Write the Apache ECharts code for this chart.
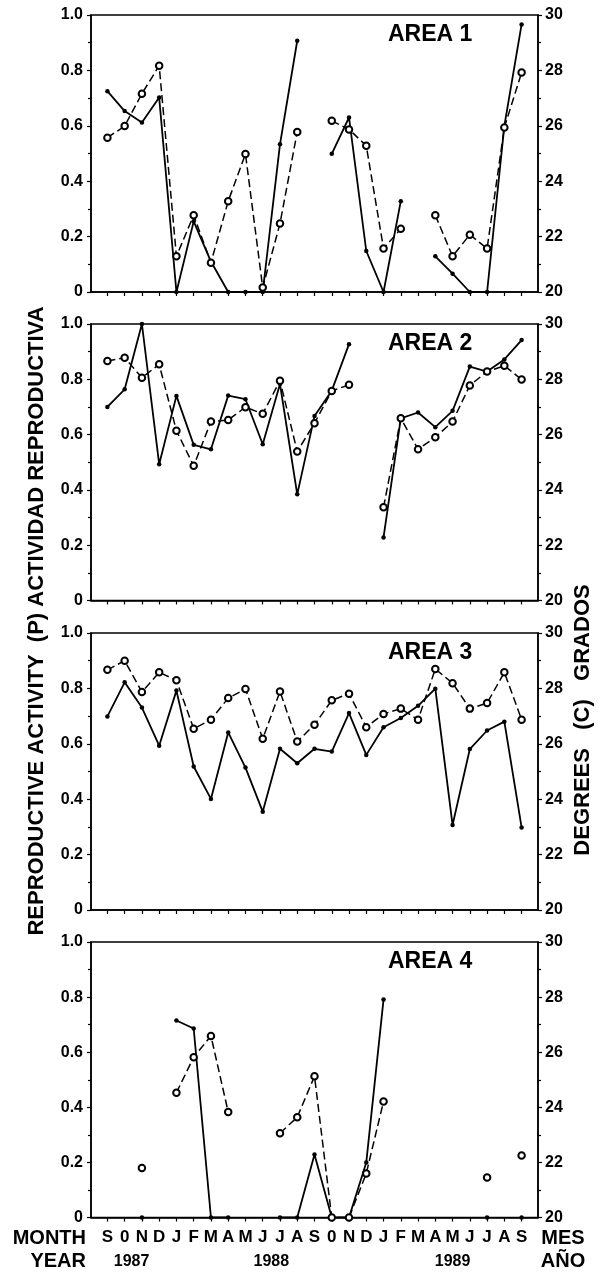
<!DOCTYPE html>
<html>
<head>
<meta charset="utf-8">
<script src="https://cdn.jsdelivr.net/npm/echarts@6/dist/echarts.min.js"></script>
<style>
html,body{margin:0;padding:0;background:#fff;}
#chart{width:598px;height:1274px;}
</style>
</head>
<body>
<div id="chart"></div>
<script>
// ---- Data ----
const months = ['S','0','N','D','J','F','M','A','M','J','J','A','S','0','N','D','J','F','M','A','M','J','J','A','S'];
const years = ['1987','1988','1989'];
const yearPositions = [1.4, 9.5, 20];
const areaNames = ['AREA 1','AREA 2','AREA 3','AREA 4'];
const leftTicks = [0, 0.2, 0.4, 0.6, 0.8, 1.0];
const rightTicks = [20, 22, 24, 26, 28, 30];

// reproductive activity (P), left axis
const area1Activity = [0.725,0.653,0.612,0.702,0,0.255,0.11,0,0,0,0.533,0.907,null,0.499,0.63,0.148,0,0.328,null,0.129,0.066,0,0,0.6,0.966];
const area2Activity = [0.70,0.764,1.0,0.493,0.74,0.563,0.547,0.741,0.728,0.565,0.783,0.384,0.667,0.759,0.927,null,0.228,0.659,0.68,0.627,0.686,0.846,0.828,0.872,0.942];
const area3Activity = [0.699,0.822,0.731,0.593,0.792,0.518,0.401,0.641,0.514,0.355,0.582,0.53,0.582,0.572,0.711,0.56,0.66,0.693,0.737,0.799,0.307,0.581,0.648,0.68,0.298];
const area4Activity = [null,null,0,null,0.715,0.686,0,0,null,null,0,0,0.229,0,0,0.2,0.791,null,null,null,null,null,0,null,0];

// temperature (degrees C), right axis
const area1Temp = [25.57,25.99,27.16,28.17,21.29,22.77,21.06,23.28,24.98,20.16,22.47,25.78,null,26.18,25.87,25.28,21.57,22.28,null,22.77,21.29,22.07,21.57,25.94,27.92];
const area2Temp = [28.66,28.78,28.06,28.54,26.14,24.87,26.47,26.53,26.99,26.75,27.95,25.39,26.41,27.58,27.8,null,23.37,26.59,25.47,25.9,26.47,27.78,28.28,28.49,27.99];
const area3Temp = [28.67,29.0,27.87,28.58,28.29,26.54,26.87,27.65,27.98,26.18,27.89,26.08,26.69,27.57,27.81,26.6,27.08,27.27,26.87,28.7,28.19,27.27,27.47,28.58,26.87];
const area4Temp = [null,null,21.8,null,24.53,25.82,26.59,23.83,null,null,23.06,23.64,25.13,20,20,21.6,24.21,null,null,null,null,null,21.45,null,22.25];

const activity = [area1Activity, area2Activity, area3Activity, area4Activity];
const temps = [area1Temp, area2Temp, area3Temp, area4Temp];

// ---- Layout ----
const FONT = '"Liberation Sans", Arial, Helvetica, sans-serif';
const tops = [15, 324, 633, 942];
const heights = [277, 276.5, 277, 275.5];
const gridLeft = 91, gridWidth = 447;
const monthIdx = months.map((m, i) => i);

const chart = echarts.init(document.getElementById('chart'), null, {renderer: 'canvas'});

const grid = [], xAxis = [], yAxis = [], series = [], graphic = [];
for (let p = 0; p < 4; p++) {
  grid.push({left: gridLeft, top: tops[p], width: gridWidth, height: heights[p],
    show: true, borderColor: '#000', borderWidth: 1.5, backgroundColor: 'transparent'});
  xAxis.push({
    type: 'value', gridIndex: p, min: -0.95, max: 24.95, position: 'bottom',
    axisLine: {show: true, onZero: false, lineStyle: {color: '#000', width: 1.5}},
    axisTick: {show: true, customValues: monthIdx, inside: false, length: 4, lineStyle: {color: '#000', width: 1.2}},
    axisLabel: p === 3 ? {
      show: true, customValues: monthIdx, margin: 11,
      formatter: v => months[Math.round(v)],
      color: '#000', fontFamily: FONT, fontWeight: 'bold', fontSize: 17
    } : {show: false},
    splitLine: {show: false}
  });
  yAxis.push({
    type: 'value', gridIndex: p, min: 0, max: 1, interval: 0.2, position: 'left',
    axisLine: {show: true, onZero: false, lineStyle: {color: '#000', width: 1.5}},
    axisTick: {show: true, length: 4, lineStyle: {color: '#000', width: 1.2}},
    minorTick: {show: true, splitNumber: 2, length: 3, lineStyle: {color: '#000', width: 1.2}},
    axisLabel: {color: '#000', fontFamily: FONT, fontWeight: 'bold', fontSize: 16, margin: 8,
      customValues: leftTicks,
      formatter: v => (Math.abs(v) < 1e-9 ? '0' : v.toFixed(1))},
    splitLine: {show: false}
  });
  yAxis.push({
    type: 'value', gridIndex: p, min: 20, max: 30, interval: 2, position: 'right',
    axisLine: {show: true, onZero: false, lineStyle: {color: '#000', width: 1.5}},
    axisTick: {show: true, length: 4, lineStyle: {color: '#000', width: 1.2}},
    minorTick: {show: true, splitNumber: 2, length: 3, lineStyle: {color: '#000', width: 1.2}},
    axisLabel: {color: '#000', fontFamily: FONT, fontWeight: 'bold', fontSize: 16, margin: 7,
      customValues: rightTicks},
    splitLine: {show: false}
  });
  series.push({
    type: 'line', xAxisIndex: p, yAxisIndex: p * 2,
    data: activity[p].map((v, i) => [i, v]),
    connectNulls: false, symbol: 'circle', symbolSize: 4.5, showSymbol: true,
    lineStyle: {color: '#000', width: 1.8, type: 'solid'},
    itemStyle: {color: '#000'}, silent: true, animation: false, z: 2
  });
  series.push({
    type: 'line', xAxisIndex: p, yAxisIndex: p * 2 + 1,
    data: temps[p].map((v, i) => [i, v]),
    connectNulls: false, symbol: 'emptyCircle', symbolSize: 6.5, showSymbol: true,
    lineStyle: {color: '#000', width: 1.5, type: [8, 4]},
    itemStyle: {color: '#000', borderColor: '#000', borderWidth: 1.2}, silent: true, animation: false, z: 3
  });
  graphic.push({type: 'text', x: 388, y: tops[p] + 8, z: 10,
    style: {text: areaNames[p], font: 'bold 23px ' + FONT, fill: '#000', textVerticalAlign: 'top'}});
}
// year axis under the month labels of the bottom panel
xAxis.push({
  type: 'value', gridIndex: 3, min: -0.95, max: 24.95, position: 'bottom', offset: 30,
  axisLine: {show: false}, axisTick: {show: false}, splitLine: {show: false},
  axisLabel: {show: true, customValues: yearPositions, margin: 6,
    formatter: v => years[yearPositions.indexOf(v)],
    color: '#000', fontFamily: FONT, fontWeight: 'bold', fontSize: 16}
});

graphic.push(
  {type: 'text', x: 86, y: 1238, style: {text: 'MONTH', font: 'bold 20px ' + FONT, fill: '#000', textAlign: 'right', textVerticalAlign: 'middle'}},
  {type: 'text', x: 86, y: 1261, style: {text: 'YEAR', font: 'bold 20px ' + FONT, fill: '#000', textAlign: 'right', textVerticalAlign: 'middle'}},
  {type: 'text', x: 563, y: 1238, style: {text: 'MES', font: 'bold 20px ' + FONT, fill: '#000', textAlign: 'center', textVerticalAlign: 'middle'}},
  {type: 'text', x: 563, y: 1261, style: {text: 'AÑO', font: 'bold 20px ' + FONT, fill: '#000', textAlign: 'center', textVerticalAlign: 'middle'}},
  {type: 'text', x: 37, y: 621, rotation: Math.PI / 2,
    style: {text: 'REPRODUCTIVE ACTIVITY  (P) ACTIVIDAD REPRODUCTIVA', font: 'bold 22px ' + FONT, fill: '#000', textAlign: 'center', textVerticalAlign: 'middle'}},
  {type: 'text', x: 583, y: 720, rotation: Math.PI / 2,
    style: {text: 'DEGREES   (C)   GRADOS', font: 'bold 22px ' + FONT, fill: '#000', textAlign: 'center', textVerticalAlign: 'middle'}}
);

chart.setOption({
  animation: false,
  backgroundColor: '#fff',
  grid, xAxis, yAxis, series, graphic
});
</script>
</body>
</html>
